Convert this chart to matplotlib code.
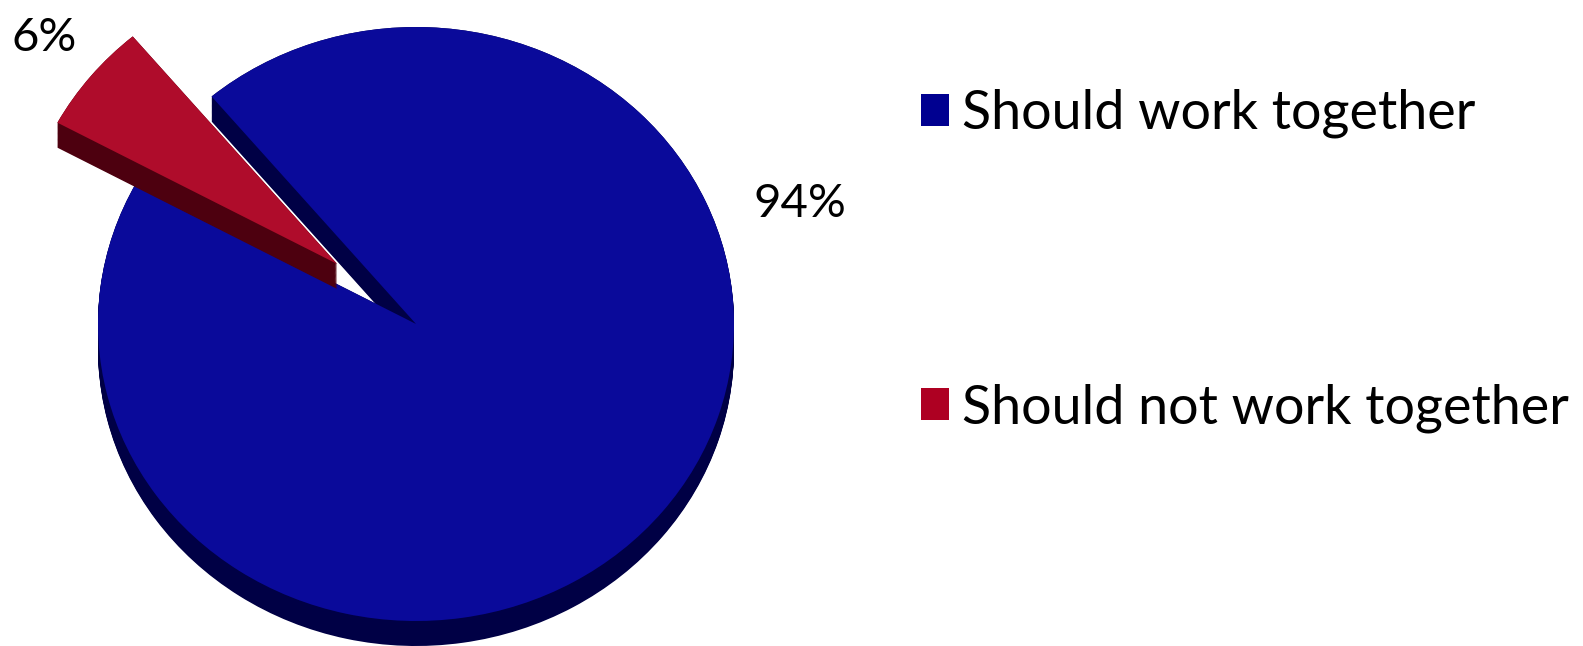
import numpy as np
import matplotlib
matplotlib.use("Agg")
import matplotlib.pyplot as plt
from matplotlib.patches import Patch

categories = ["Should work together", "Should not work together"]
values = [94, 6]
explode = [0, 0.32]
top_colors = ["#0A0A9A", "#AF0C2B"]
wall_colors = ["#000045", "#4D000F"]
legend_colors = ["#000090", "#AE0022"]

W, H = 1583, 646
cx, cy, rx, ry = 416, 324, 318, 297   # pie centre and radii, pixels
depth = 25 / ry
start = 130 + values[1] * 3.6

plt.rcParams["font.family"] = "Lato"
fig = plt.figure(figsize=(W / 100, H / 100), dpi=100)
ax = fig.add_axes([0, 0, 1, 1])

# fake 3d: stack of dark pies, then the top face, one slice at a time
for i in [0, 1]:
    colors = [wall_colors[i] if j == i else "none" for j in range(2)]
    for d in np.linspace(depth, 0, 30):
        ax.pie(values, explode=explode, startangle=start, center=(0, -d),
               colors=colors, wedgeprops={"linewidth": 0})
    colors = [top_colors[i] if j == i else "none" for j in range(2)]
    ax.pie(values, explode=explode, startangle=start, colors=colors,
           wedgeprops={"linewidth": 0})

ax.set_aspect("auto")
ax.set_xlim((0 - cx) / rx, (W - cx) / rx)
ax.set_ylim((cy - H) / ry, cy / ry)
ax.axis("off")

fig.text(753 / W, 1 - 217 / H, f"{values[0]}%", fontsize=34, ha="left", va="baseline")
fig.text(12 / W, 1 - 51 / H, f"{values[1]}%", fontsize=34, ha="left", va="baseline")

handles = [Patch(color=c, linewidth=0) for c in legend_colors]
fig.legend(handles, categories, loc="upper left",
           bbox_to_anchor=(921 / W, 1 - 89 / H), bbox_transform=fig.transFigure,
           frameon=False, fontsize=38.8, borderpad=0, borderaxespad=0,
           handlelength=0.52, handleheight=0.52, handletextpad=0.24,
           labelspacing=4.54)

fig.savefig("out.png", dpi=100)
